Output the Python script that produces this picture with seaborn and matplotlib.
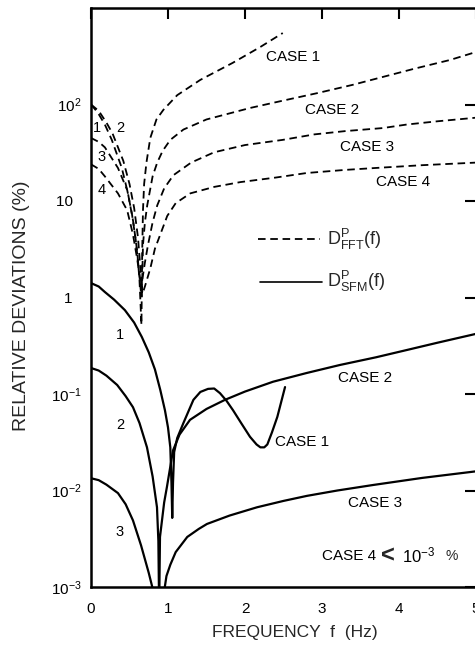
import matplotlib
matplotlib.use("Agg")
import matplotlib.pyplot as plt
import seaborn as sns

# Relative deviations (%) versus frequency f (Hz)
# FFT-based estimates, cases 1-4 (dashed)
fft1_f = [0, 0.09, 0.18, 0.27, 0.40, 0.48, 0.55, 0.60, 0.63, 0.655, 0.665, 0.675, 0.69, 0.72, 0.77,
          0.85, 0.94, 1.12, 1.42, 1.84, 2.20, 2.49]
fft1_d = [100, 82, 62, 43, 22, 12, 6, 3, 1.5, 0.52, 3, 8, 15, 25, 45, 70, 88, 125, 180, 270, 395, 550]

fft2_f = [0, 0.10, 0.20, 0.28, 0.42, 0.50, 0.56, 0.61, 0.64, 0.66, 0.675, 0.70, 0.73, 0.80, 0.86, 0.93,
          1.03, 1.20, 1.50, 2.065, 2.50, 2.935, 3.40, 3.79, 4.20, 4.66, 5.0]
fft2_d = [100, 86, 65, 50, 26, 15, 8.5, 4.2, 2.1, 1.0, 3.5, 6, 9, 18, 25, 33,
          43, 55, 70, 92, 110, 131, 160, 193, 235, 289, 350]

fft3_f = [0, 0.10, 0.18, 0.35, 0.47, 0.53, 0.58, 0.62, 0.65, 0.67, 0.70, 0.74, 0.80, 0.86, 0.95,
          1.07, 1.30, 1.60, 2.00, 2.49, 2.90, 3.30, 3.79, 4.10, 4.50, 5.0]
fft3_d = [45, 41, 36, 22, 13, 7.5, 4, 2, 1.1, 1.6, 2.3, 3.5, 6, 9, 13.5,
          18.5, 25, 32, 38, 43, 49, 53, 57, 62, 67, 73]

fft4_f = [0, 0.10, 0.18, 0.35, 0.47, 0.545, 0.60, 0.64, 0.67, 0.70, 0.77, 0.83, 0.90, 0.99, 1.10,
          1.29, 1.60, 1.94, 2.40, 2.80, 3.30, 3.70, 4.30, 5.0]
fft4_d = [24, 21.5, 18, 12, 8, 4.5, 2.5, 1.5, 1.1, 1.3, 2.0, 3.2, 4.5, 7, 9.5,
          12, 14, 15.7, 17.5, 19.5, 21, 22, 23.5, 25]

# SFM-based estimates, cases 1-3 (solid)
sfm1_f = [0, 0.10, 0.18, 0.30, 0.44, 0.56, 0.66, 0.75, 0.83, 0.90, 0.96, 1.00, 1.03, 1.045, 1.055,
          1.065, 1.08, 1.12, 1.20, 1.33, 1.42, 1.52, 1.60, 1.675, 1.76, 1.844, 1.95, 2.065, 2.15,
          2.20, 2.25, 2.29, 2.35, 2.42, 2.52]
sfm1_d = [1.41, 1.30, 1.14, 0.95, 0.74, 0.55, 0.39, 0.27, 0.18, 0.11, 0.068, 0.045, 0.028, 0.012, 0.0052,
          0.012, 0.025, 0.035, 0.050, 0.087, 0.105, 0.113, 0.114, 0.102, 0.085, 0.068, 0.050, 0.036, 0.030,
          0.028, 0.028, 0.030, 0.040, 0.058, 0.118]

sfm2_f = [0, 0.10, 0.20, 0.34, 0.45, 0.545, 0.63, 0.727, 0.80, 0.857, 0.875, 0.885, 0.896, 0.95, 0.987,
          1.065, 1.15, 1.286, 1.50, 1.74, 2.00, 2.364, 2.80, 3.234, 3.70, 4.104, 4.50, 5.0]
sfm2_d = [0.186, 0.175, 0.155, 0.124, 0.095, 0.073, 0.050, 0.028, 0.014, 0.0067, 0.003, 0.0006, 0.0033, 0.0075, 0.011,
          0.026, 0.038, 0.054, 0.070, 0.087, 0.106, 0.134, 0.165, 0.200, 0.240, 0.286, 0.340, 0.420]

sfm3_f = [0, 0.10, 0.20, 0.35, 0.45, 0.545, 0.65, 0.75, 0.81, 0.88, 0.95, 0.98, 1.03, 1.10, 1.25, 1.40,
          1.506, 1.80, 2.156, 2.50, 2.805, 3.20, 3.662, 4.30, 5.0]
sfm3_d = [0.0134, 0.0128, 0.0115, 0.0094, 0.0072, 0.0049, 0.0027, 0.0014, 0.0009, 0.0002, 0.0009, 0.0013, 0.0017,
          0.0023, 0.0033, 0.0040, 0.0045, 0.0055, 0.0067, 0.0078, 0.0088, 0.0100, 0.0114, 0.0135, 0.0158]

fft_curves = [(fft1_f, fft1_d), (fft2_f, fft2_d), (fft3_f, fft3_d), (fft4_f, fft4_d)]
sfm_curves = [(sfm1_f, sfm1_d), (sfm2_f, sfm2_d), (sfm3_f, sfm3_d)]

x_ticks = [0, 1, 2, 3, 4, 5]
y_ticks = [1e-3, 1e-2, 1e-1, 1, 10, 100]
y_tick_labels = [r"$10^{-3}$", r"$10^{-2}$", r"$10^{-1}$", "1\u2007", "10\u2007", r"$10^{2}$"]

sns.set_style("white")
plt.rcParams["font.family"] = ["Liberation Sans", "DejaVu Sans"]
plt.rcParams["mathtext.fontset"] = "custom"
plt.rcParams["mathtext.rm"] = "Liberation Sans"
plt.rcParams["mathtext.it"] = "Liberation Sans"
plt.rcParams["mathtext.bf"] = "Liberation Sans:bold"
plt.rcParams["mathtext.default"] = "regular"

fig = plt.figure(figsize=(4.75, 6.49), dpi=100)
ax = fig.add_axes([91 / 475, 62 / 649, 385 / 475, 579 / 649])
ax.set_yscale("log")

dash = (0, (4.2, 2.6))
for f, d in fft_curves:
    sns.lineplot(x=f, y=d, ax=ax, color="black", lw=1.3, linestyle=dash,
                 sort=False, estimator=None)
for f, d in sfm_curves:
    sns.lineplot(x=f, y=d, ax=ax, color="black", lw=1.6, sort=False, estimator=None)

ax.set_xlim(0, 5)
ax.set_ylim(1e-3, 1e3)
ax.set_xticks(x_ticks)
ax.set_xticklabels([str(v) for v in x_ticks])
ax.set_yticks(y_ticks)
ax.set_yticklabels(y_tick_labels)
ax.minorticks_off()
ax.tick_params(axis="both", which="major", direction="in", length=8, width=1.5,
               top=True, right=True, labelsize=11, colors="black")
ax.tick_params(axis="x", pad=11)
ax.tick_params(axis="y", pad=7)
for side in ["left", "bottom", "top", "right"]:
    ax.spines[side].set_linewidth(1.8)
    ax.spines[side].set_color("black")

txt = dict(color="black", fontsize=11)
num = dict(color="black", fontsize=10.5, ha="center", va="center")
# curve labels, FFT
ax.text(2.62, 310, "CASE 1", ha="center", va="center", **txt)
ax.text(3.13, 88, "CASE 2", ha="center", va="center", **txt)
ax.text(3.58, 36, "CASE 3", ha="center", va="center", **txt)
ax.text(4.05, 15.7, "CASE 4", ha="center", va="center", **txt)
ax.text(0.078, 57, "1", **num)
ax.text(0.38, 57, "2", **num)
ax.text(0.143, 28.6, "3", **num)
ax.text(0.143, 13, "4", **num)

# curve labels, SFM
ax.text(3.56, 0.147, "CASE 2", ha="center", va="center", **txt)
ax.text(2.74, 0.0318, "CASE 1", ha="center", va="center", **txt)
ax.text(3.69, 0.0074, "CASE 3", ha="center", va="center", **txt)
ax.text(3.0, 0.0021, "CASE 4", ha="left", va="center", **txt)
ax.text(3.86, 0.0021, "<", ha="center", va="center", fontsize=17, fontweight="bold")
ax.text(4.04, 0.0021, r"10$^{-3}$", ha="left", va="center", color="black", fontsize=12)
ax.text(4.6, 0.0021, "%", ha="left", va="center", fontsize=10)
ax.text(0.377, 0.41, "1", **num)
ax.text(0.377, 0.048, "2", **num)
ax.text(0.377, 0.0037, "3", **num)

# key
ax.plot([2.17, 2.97], [4.0, 4.0], color="black", lw=1.3, linestyle=dash)
ax.plot([2.19, 3.0], [1.45, 1.45], color="black", lw=1.2)
ax.text(3.06, 4.0, r"D$^{\mathrm{P}}_{\mathrm{FFT}}$(f)", ha="left", va="center", fontsize=13)
ax.text(3.06, 1.45, r"D$^{\mathrm{P}}_{\mathrm{SFM}}$(f)", ha="left", va="center", fontsize=13)

fig.text(22 / 475, 1 - 306 / 649, "RELATIVE DEVIATIONS (%)", rotation=90,
         ha="center", va="center", fontsize=14)
fig.text(295 / 475, 1 - 632 / 649, "FREQUENCY  f  (Hz)", ha="center", va="center", fontsize=12.5)

fig.savefig("out.png", dpi=100, facecolor="white")
